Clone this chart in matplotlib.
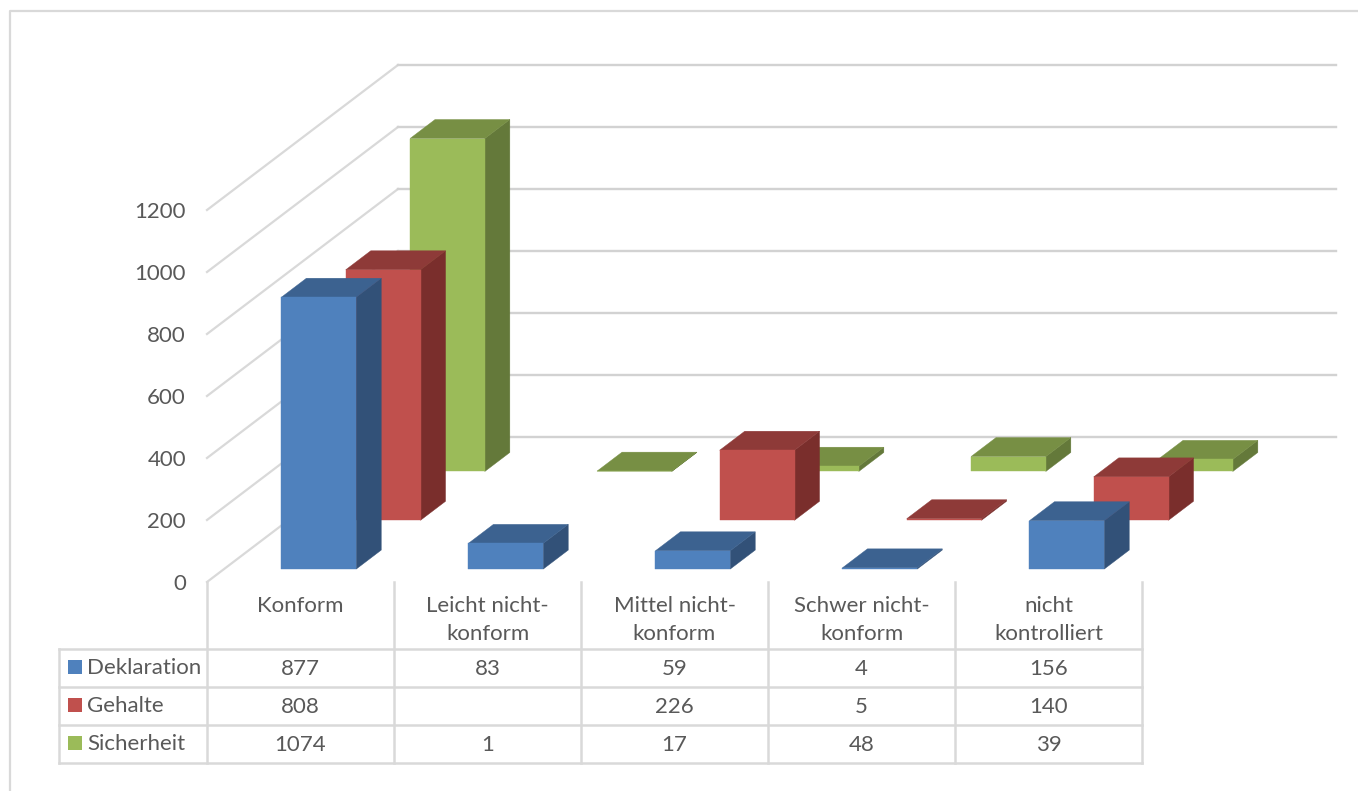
import numpy as np
import matplotlib
matplotlib.use('Agg')
import matplotlib.pyplot as plt
from matplotlib.patches import Polygon, Rectangle

categories = [['Konform'], ['Leicht nicht-', 'konform'], ['Mittel nicht-', 'konform'],
              ['Schwer nicht-', 'konform'], ['nicht', 'kontrolliert']]
series_names = ['Deklaration', 'Gehalte', 'Sicherheit']
deklaration = [877, 83, 59, 4, 156]
gehalte = [808, np.nan, 226, 5, 140]
sicherheit = [1074, 1, 17, 48, 39]
yticks = [0, 200, 400, 600, 800, 1000, 1200]

front_cols = ['#4F81BD', '#C0504D', '#9BBB59']
top_cols = ['#3C6290', '#8E3A38', '#778F44']
side_cols = ['#325178', '#7A2E2C', '#64793A']
text_col = '#595959'
line_col = '#D9D9D9'

plt.rcParams['font.family'] = ['Lato', 'DejaVu Sans']
fs = 16

fig = plt.figure(figsize=(13.58, 7.91), dpi=100)
ax = fig.add_axes([0, 0, 1, 1])
ax.set_xlim(0, 1358)
ax.set_ylim(791, 0)
ax.axis('off')

# oblique projection, pixels per category / per unit / for full depth
x0, y0 = 207, 582
cat_w = 187
px_per_unit = 0.31
depth_x, depth_y = 191, 145
wall_right = 1336


def project(cat, depth, val):
    return (x0 + cat * cat_w + depth * depth_x,
            y0 - depth * depth_y - val * px_per_unit)


# outer frame
ax.plot([10, 10, 1358], [791, 11, 11], color=line_col, lw=1.6, zorder=1)

# walls
for t in yticks:
    p1 = project(0, 0, t)
    p2 = project(0, 1, t)
    ax.plot([p1[0], p2[0]], [p1[1], p2[1]], color=line_col, lw=1.6, zorder=1)
    ax.plot([p2[0], wall_right], [p2[1], p2[1]], color='#D2D2D2', lw=1.7, zorder=1)
    ax.text(186, p1[1] + 1.5, str(t), ha='right', va='center', fontsize=fs, color=text_col)

# bars, back row first
all_series = [deklaration, gehalte, sicherheit]
bar_left = 0.307
bar_w = 0.4
bar_depth = 0.131
for s in [2, 1, 0]:
    d = 0.089 + s * 0.3367
    for c, v in enumerate(all_series[s]):
        if np.isnan(v):
            continue
        l = c + bar_left
        r = l + bar_w
        front = [project(l, d, 0), project(r, d, 0), project(r, d, v), project(l, d, v)]
        side = [project(r, d, 0), project(r, d + bar_depth, 0),
                project(r, d + bar_depth, v), project(r, d, v)]
        top = [project(l, d, v), project(r, d, v),
               project(r, d + bar_depth, v), project(l, d + bar_depth, v)]
        for pts, col in [(side, side_cols[s]), (top, top_cols[s]), (front, front_cols[s])]:
            ax.add_patch(Polygon(pts, closed=True, facecolor=col, edgecolor=col,
                                 lw=0.3, zorder=3))

# data table
row_y = [649, 687, 725, 763]
table_left = 59
col_x = [x0 + i * cat_w for i in range(len(categories) + 1)]
for y in row_y:
    ax.plot([table_left, col_x[-1]], [y, y], color=line_col, lw=1.8, zorder=2)
ax.plot([table_left, table_left], [row_y[0], row_y[-1]], color=line_col, lw=1.8, zorder=2)
for x in col_x:
    ax.plot([x, x], [y0, row_y[-1]], color=line_col, lw=1.8, zorder=2)

for c, lines in enumerate(categories):
    cx = col_x[c] + cat_w / 2
    for k, txt in enumerate(lines):
        ax.text(cx, 606 + k * 28.5, txt, ha='center', va='center', fontsize=fs, color=text_col)

for s, name in enumerate(series_names):
    cy = (row_y[s] + row_y[s + 1]) / 2
    ax.add_patch(Rectangle((68, cy - 8), 14, 14, facecolor=front_cols[s], edgecolor='none', zorder=3))
    ax.text(87, cy, name, ha='left', va='center', fontsize=fs, color=text_col)
    for c, v in enumerate(all_series[s]):
        if np.isnan(v):
            continue
        ax.text(col_x[c] + cat_w / 2, cy + 1, str(v), ha='center', va='center',
                fontsize=fs, color=text_col)

fig.savefig('out.png', dpi=100)
